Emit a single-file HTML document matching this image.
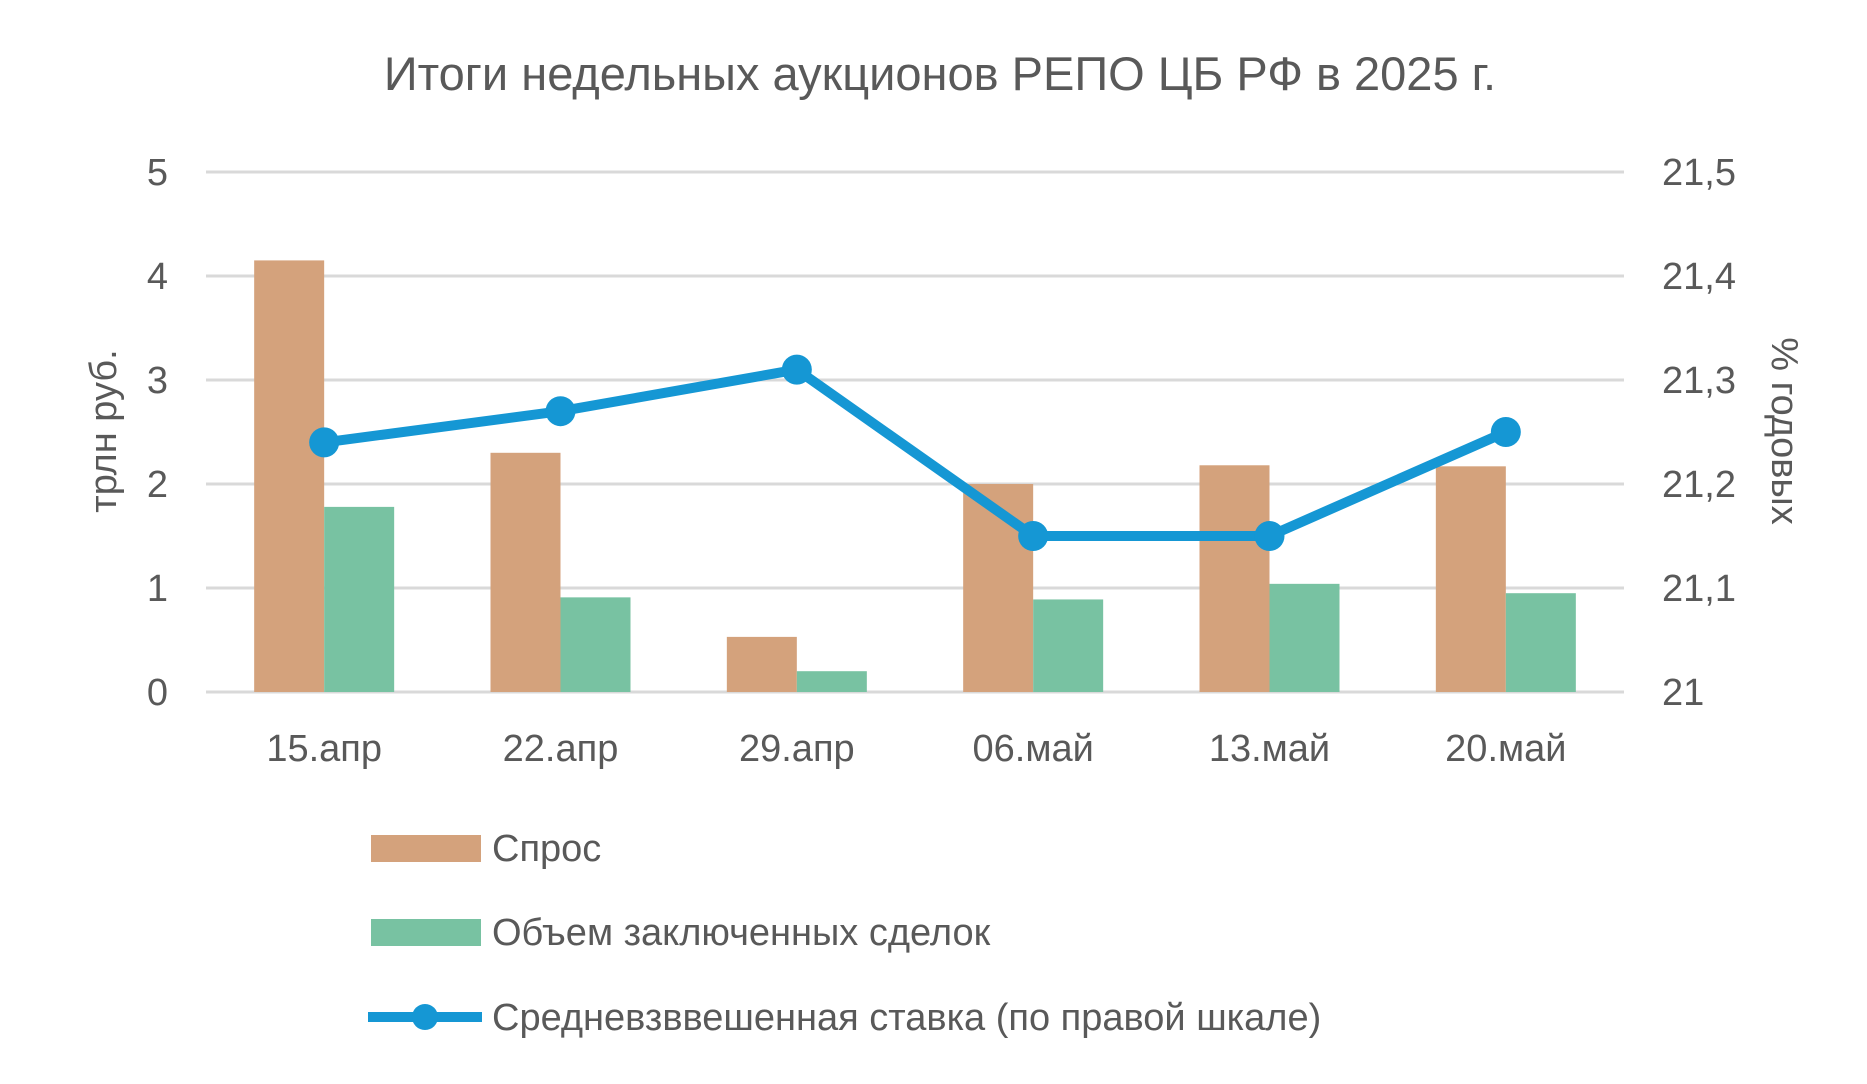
<!DOCTYPE html>
<html><head><meta charset="utf-8"><style>
body{margin:0;background:#fff}
svg text{font-family:"Liberation Sans","DejaVu Sans",sans-serif;fill:#595959}
</style></head><body>
<svg width="1867" height="1079" id="c">
<text x="940" y="90" font-size="47" text-anchor="middle">Итоги недельных аукционов РЕПО ЦБ РФ в 2025 г.</text>
<text transform="translate(116,431) rotate(-90)" font-size="38" text-anchor="middle">трлн руб.</text>
<text transform="translate(1772,431) rotate(90)" font-size="38" text-anchor="middle">% годовых</text>
<g id="grid"></g><g id="bars"></g><g id="line"></g><g id="labels"></g>
<g>
<rect x="371" y="835" width="110" height="27" fill="#D4A27C"/>
<text x="492" y="861" font-size="38">Спрос</text>
<rect x="371" y="919" width="110" height="27" fill="#78C2A2"/>
<text x="492" y="945" font-size="38">Объем заключенных сделок</text>
<line x1="368" y1="1017" x2="482" y2="1017" stroke="#1597D4" stroke-width="10"/>
<circle cx="425" cy="1017" r="13" fill="#1597D4"/>
<text x="492" y="1030" font-size="38">Средневзввешенная ставка (по правой шкале)</text>
</g>
</svg>
<script>
const categories=["15.апр","22.апр","29.апр","06.май","13.май","20.май"];
const demand=[4.15,2.3,0.53,2.0,2.18,2.17];
const volume=[1.78,0.91,0.2,0.89,1.04,0.95];
const rate=[21.24,21.27,21.31,21.15,21.15,21.25];
const leftTicks=["0","1","2","3","4","5"];
const rightTicks=["21","21,1","21,2","21,3","21,4","21,5"];
const NS="http://www.w3.org/2000/svg";
const x0=206,x1=1624,yTop=172,yBot=692;
const yL=v=>yBot-(v/5)*(yBot-yTop);
const yR=v=>yBot-((v-21)/0.5)*(yBot-yTop);
const band=(x1-x0)/categories.length;
const xc=i=>x0+band*(i+0.5);
function mk(t,a,p){const e=document.createElementNS(NS,t);for(const k in a)e.setAttribute(k,a[k]);document.getElementById(p).appendChild(e);return e;}
leftTicks.forEach((t,i)=>{
 const v=+t;
 const g=mk("line",{x1:x0,x2:x1,y1:yL(v),y2:yL(v),stroke:"#D9D9D9","stroke-width":3},"grid");
 
 
 const l=mk("text",{x:168,y:yL(v)+13,"font-size":38,"text-anchor":"end"},"labels");l.textContent=t;
 
 
});
rightTicks.forEach((t,i)=>{
 const v=parseFloat(t.replace(",","."));
 const l=mk("text",{x:1662,y:yR(v)+13,"font-size":38},"labels");l.textContent=t;
 
 
});
const bw=70;
categories.forEach((c,i)=>{
 const b=mk("rect",{x:xc(i)-bw,y:yL(demand[i]),width:bw,height:yBot-yL(demand[i]),fill:"#D4A27C"},"bars");
 
 
 const g=mk("rect",{x:xc(i),y:yL(volume[i]),width:bw,height:yBot-yL(volume[i]),fill:"#78C2A2"},"bars");
 
 
 const l=mk("text",{x:xc(i),y:761,"font-size":38,"text-anchor":"middle"},"labels");l.textContent=c;
 
 
});
const pl=mk("polyline",{points:rate.map((v,i)=>xc(i)+","+yR(v)).join(" "),fill:"none",stroke:"#1597D4","stroke-width":10,"stroke-linejoin":"round"},"line");


rate.forEach((v,i)=>{
 const p=mk("circle",{cx:xc(i),cy:yR(v),r:15,fill:"#1597D4"},"line");
 
 
});
</script>
</body></html>
